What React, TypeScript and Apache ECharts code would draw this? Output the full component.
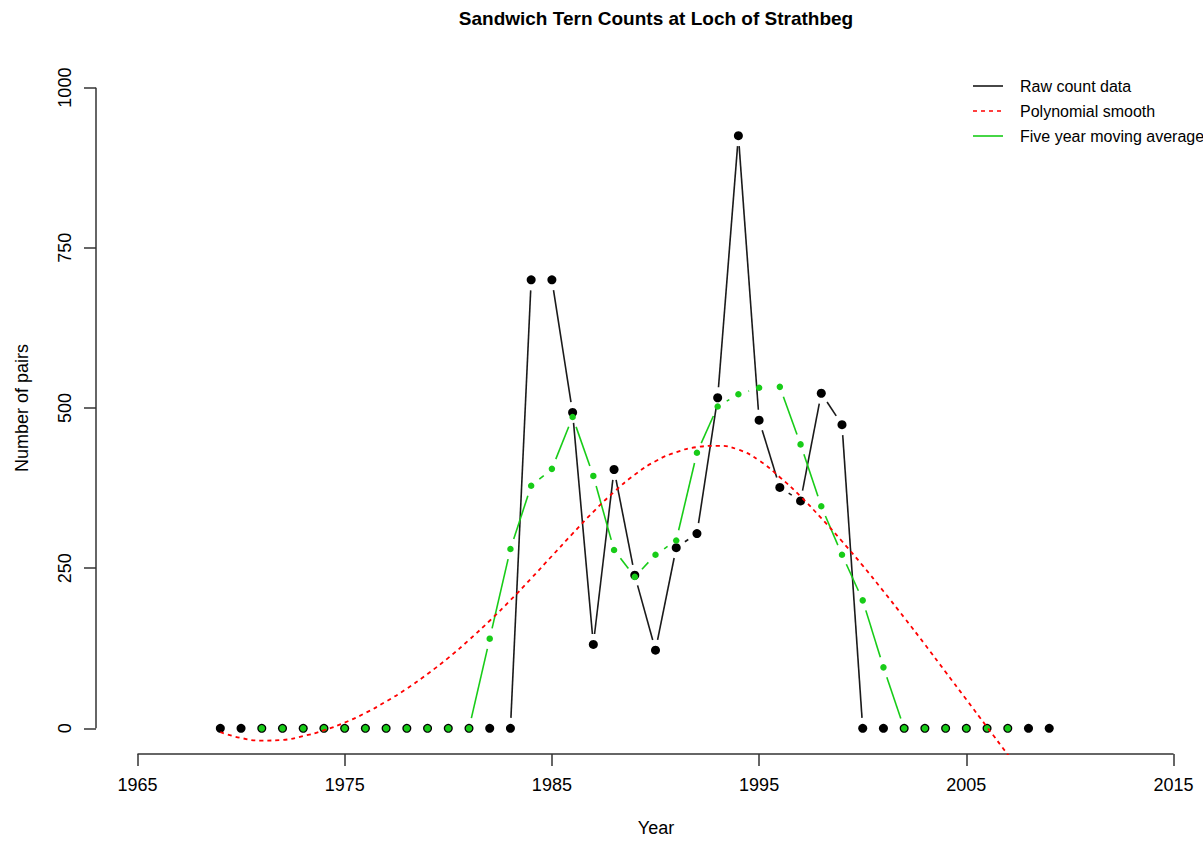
import React, { useEffect, useRef } from "react";
import * as echarts from "echarts";

// ---------- data ----------
const rawYears: number[] = [
  1969, 1970, 1971, 1972, 1973, 1974, 1975, 1976, 1977, 1978, 1979, 1980, 1981, 1982, 1983,
  1984, 1985, 1986, 1987, 1988, 1989, 1990, 1991, 1992, 1993, 1994, 1995, 1996, 1997, 1998,
  1999, 2000, 2001, 2002, 2003, 2004, 2005, 2006, 2007, 2008, 2009,
];
const rawCounts: number[] = [
  0, 0, 0, 0, 0, 0, 0, 0, 0, 0, 0, 0, 0, 0, 0,
  700, 700, 493, 131, 404, 239, 122, 282, 304, 516, 925, 481, 376, 355, 523,
  474, 0, 0, 0, 0, 0, 0, 0, 0, 0, 0,
];

const maYears: number[] = [
  1971, 1972, 1973, 1974, 1975, 1976, 1977, 1978, 1979, 1980, 1981, 1982, 1983, 1984, 1985,
  1986, 1987, 1988, 1989, 1990, 1991, 1992, 1993, 1994, 1995, 1996, 1997, 1998, 1999, 2000,
  2001, 2002, 2003, 2004, 2005, 2006, 2007,
];
const maValues: number[] = [
  0, 0, 0, 0, 0, 0, 0, 0, 0, 0, 0, 140, 280, 378.6, 405,
  486, 394, 278.4, 236.4, 271, 293.2, 430.2, 502.4, 521.4, 531.6, 533, 443.2, 346.6, 271, 199.8,
  95.2, 0, 0, 0, 0, 0, 0,
];

const polyYears: number[] = rawYears;
const polyValues: number[] = [
  -6, -15, -19, -18, -12, -3, 9, 24, 42, 62, 85, 110, 138, 168, 200,
  234, 269, 304, 338, 369, 396, 417, 431, 439, 441, 435, 418, 392, 362, 328,
  292, 254, 214, 173, 131, 88, 45, 2, -41, -85, -130,
];

const xTicks: number[] = [1965, 1975, 1985, 1995, 2005, 2015];
const yTicks: number[] = [0, 250, 500, 750, 1000];
const X_MIN = 1963;
const X_MAX = 2017;
const Y_MIN = -40;
const Y_MAX = 1040;

const legendLabels: string[] = ["Raw count data", "Polynomial smooth", "Five year moving average"];

const FONT = "'Liberation Sans', Arial, Helvetica, sans-serif";
const BLACK_LINE = "#1a1a1a";
const GREEN = "#18cc18";
const RED = "#ff0000";

function segments(xs: number[], ys: number[]): number[][] {
  const out: number[][] = [];
  for (let i = 0; i < xs.length - 1; i++) out.push([xs[i], ys[i], xs[i + 1], ys[i + 1]]);
  return out;
}

function gapLineSeries(name: string, data: number[][], color: string, gap: number, z: number) {
  return {
    type: "custom",
    name,
    z,
    clip: false,
    silent: true,
    encode: { x: [0, 2], y: [1, 3] },
    data,
    renderItem: (_params: any, api: any) => {
      const p0 = api.coord([api.value(0), api.value(1)]);
      const p1 = api.coord([api.value(2), api.value(3)]);
      const dx = p1[0] - p0[0];
      const dy = p1[1] - p0[1];
      const L = Math.hypot(dx, dy);
      if (L <= 2 * gap) return { type: "group", children: [] };
      const ux = dx / L;
      const uy = dy / L;
      return {
        type: "line",
        shape: {
          x1: p0[0] + ux * gap,
          y1: p0[1] + uy * gap,
          x2: p1[0] - ux * gap,
          y2: p1[1] - uy * gap,
        },
        style: { stroke: color, lineWidth: 1.6 },
      };
    },
  };
}

export default function App() {
  const ref = useRef<HTMLDivElement>(null);

  useEffect(() => {
    if (!ref.current) return;
    const chart = echarts.init(ref.current, undefined, { renderer: "svg" });

    const rawPts = rawYears.map((y, i) => [y, rawCounts[i]]);
    const maPts = maYears.map((y, i) => [y, maValues[i]]);
    const polyPts = polyYears.map((y, i) => [y, polyValues[i]]);

    const legendRowsY = [86, 111, 136];
    const legendGraphics: any[] = [];
    const legendStyles = [
      { stroke: BLACK_LINE, lineWidth: 1.6 },
      { stroke: RED, lineWidth: 1.6, lineDash: [4, 4] },
      { stroke: GREEN, lineWidth: 1.6 },
    ];
    legendLabels.forEach((label, i) => {
      legendGraphics.push({
        type: "line",
        shape: { x1: 973, y1: legendRowsY[i], x2: 1003, y2: legendRowsY[i] },
        style: legendStyles[i],
      });
      legendGraphics.push({
        type: "text",
        x: 1020,
        y: legendRowsY[i],
        style: {
          text: label,
          fontSize: 16,
          fontFamily: FONT,
          fill: "#000",
          textVerticalAlign: "middle",
          textAlign: "left",
        },
      });
    });

    chart.setOption({
      animation: false,
      backgroundColor: "#ffffff",
      grid: { left: 96, top: 62, width: 1119, height: 692, containLabel: false },
      xAxis: {
        type: "value",
        min: X_MIN,
        max: X_MAX,
        axisLine: { show: false, onZero: false },
        splitLine: { show: false },
        axisTick: {
          show: true,
          customValues: xTicks,
          length: 12,
          lineStyle: { color: "#333", width: 1.5 },
        },
        axisLabel: {
          customValues: xTicks,
          formatter: (v: number) => String(v),
          margin: 22,
          fontSize: 18,
          fontFamily: FONT,
          color: "#000",
        },
      },
      yAxis: {
        type: "value",
        min: Y_MIN,
        max: Y_MAX,
        axisLine: { show: false, onZero: false },
        splitLine: { show: false },
        axisTick: {
          show: true,
          customValues: yTicks,
          length: 12,
          lineStyle: { color: "#333", width: 1.5 },
        },
        axisLabel: {
          customValues: yTicks,
          formatter: (v: number) => String(v),
          rotate: 90,
          margin: 22,
          fontSize: 18,
          fontFamily: FONT,
          color: "#000",
        },
      },
      graphic: [
        {
          type: "text",
          x: 656,
          y: 18,
          style: {
            text: "Sandwich Tern Counts at Loch of Strathbeg",
            fontSize: 19,
            fontWeight: "bold",
            fontFamily: FONT,
            fill: "#000",
            textAlign: "center",
            textVerticalAlign: "middle",
          },
        },
        {
          type: "text",
          x: 656,
          y: 828,
          style: {
            text: "Year",
            fontSize: 18,
            fontFamily: FONT,
            fill: "#000",
            textAlign: "center",
            textVerticalAlign: "middle",
          },
        },
        {
          type: "text",
          x: 22,
          y: 408,
          rotation: Math.PI / 2,
          style: {
            text: "Number of pairs",
            fontSize: 18,
            fontFamily: FONT,
            fill: "#000",
            textAlign: "center",
            textVerticalAlign: "middle",
          },
        },
        ...legendGraphics,
      ],
      series: [
        {
          type: "custom",
          name: "axes",
          clip: false,
          silent: true,
          z: 1,
          data: [[X_MIN, Y_MIN]],
          renderItem: (_params: any, api: any) => {
            const a0 = api.coord([X_MIN, yTicks[0]]);
            const a1 = api.coord([X_MIN, yTicks[yTicks.length - 1]]);
            const b0 = api.coord([xTicks[0], Y_MIN]);
            const b1 = api.coord([xTicks[xTicks.length - 1], Y_MIN]);
            return {
              type: "group",
              children: [
                {
                  type: "line",
                  shape: { x1: a0[0], y1: a0[1], x2: a1[0], y2: a1[1] },
                  style: { stroke: "#333", lineWidth: 1.5 },
                },
                {
                  type: "line",
                  shape: { x1: b0[0], y1: b0[1], x2: b1[0], y2: b1[1] },
                  style: { stroke: "#333", lineWidth: 1.5 },
                },
              ],
            };
          },
        },
        gapLineSeries("Raw count data", segments(rawYears, rawCounts), BLACK_LINE, 10.5, 2),
        {
          type: "scatter",
          name: "Raw points",
          data: rawPts,
          symbol: "circle",
          symbolSize: 9,
          itemStyle: { color: "#000", opacity: 1 },
          z: 3,
          silent: true,
        },
        gapLineSeries("Five year moving average", segments(maYears, maValues), GREEN, 10.5, 4),
        {
          type: "scatter",
          name: "MA points",
          data: maPts,
          symbol: "circle",
          symbolSize: 6.5,
          itemStyle: { color: GREEN, opacity: 1 },
          z: 5,
          silent: true,
        },
        {
          type: "line",
          name: "Polynomial smooth",
          data: polyPts,
          smooth: 0.5,
          showSymbol: false,
          clip: true,
          z: 6,
          silent: true,
          lineStyle: { color: RED, width: 1.8, type: [4, 4] },
        },
      ],
    });

    return () => chart.dispose();
  }, []);

  return (
    <div
      style={{
        position: "absolute",
        left: 0,
        top: 0,
        width: 1203,
        height: 843,
        overflow: "hidden",
        background: "#ffffff",
      }}
    >
      <div ref={ref} style={{ width: 1240, height: 843 }} />
    </div>
  );
}
